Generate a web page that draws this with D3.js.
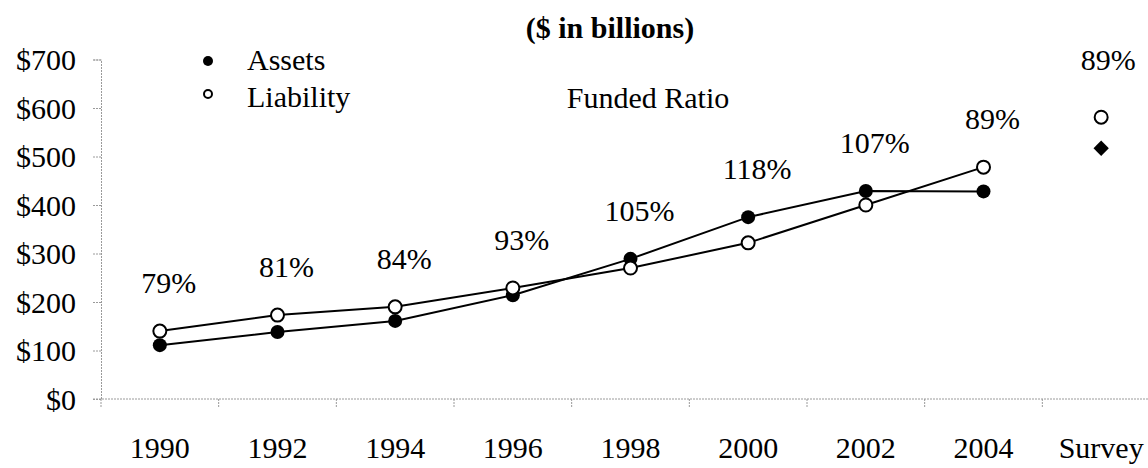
<!DOCTYPE html>
<html>
<head>
<meta charset="utf-8">
<script src="https://cdn.jsdelivr.net/npm/d3@7"></script>
<style>
  body { margin: 0; background: #fff; }
  svg text { font-family: "Liberation Serif", "Times New Roman", serif; fill: #000; }
  .axis path, .axis line, .tick-mark { stroke: #9a9a9a; stroke-width: 1; stroke-dasharray: 2,1; }
</style>
</head>
<body>
<svg class="chart" width="1148" height="468"></svg>
<script>
// values ($ billions)
var categories = ['1990','1992','1994','1996','1998','2000','2002','2004','Survey'];
var years      = ['1990','1992','1994','1996','1998','2000','2002','2004'];
var assets     = [111, 138, 161, 214, 289, 375, 429, 428];
var liability  = [140, 173, 190, 229, 270, 322, 400, 478];
var ratios     = ['79%','81%','84%','93%','105%','118%','107%','89%'];
var surveyAssets = 517,
    surveyLiability = 581,
    surveyRatio = '89%';
var yTicks = [0,100,200,300,400,500,600,700];

var svg = d3.select('svg.chart');

var x = d3.scaleBand().domain(categories).range([101, 1160]).padding(0);
var y = d3.scaleLinear().domain([0, 700]).range([399, 59.5]);
var cx = function(c){ return x(c) + x.bandwidth()/2; };

// title (second line, first one falls off the top)
svg.append('text')
   .attr('x', 610).attr('y', 38)
   .attr('text-anchor','middle')
   .style('font-size','30px').style('font-weight','bold')
   .text('($ in billions)');

// y axis
var yAxis = svg.append('g').attr('class','axis')
   .attr('transform','translate(101,0)')
   .call(d3.axisLeft(y).tickValues(yTicks).tickSize(8).tickPadding(17)
           .tickFormat(function(d){ return '$' + d; }));
yAxis.selectAll('text').style('font-size','30px').attr('dy','0.34em');

// x axis - labels centred, tick marks on the band edges
var xAxis = svg.append('g').attr('class','axis')
   .attr('transform','translate(0,399)')
   .call(d3.axisBottom(x).tickSizeInner(0).tickSizeOuter(0).tickPadding(38));
xAxis.selectAll('text').style('font-size','30px');
xAxis.select('.domain').attr('d','M93,0H1148');

svg.append('g').selectAll('line')
   .data(categories)
   .enter().append('line')
   .attr('class','tick-mark')
   .attr('x1', function(d){ return x(d); })
   .attr('x2', function(d){ return x(d); })
   .attr('y1', 399).attr('y2', 408);

// lines
var line = d3.line()
   .x(function(d,i){ return cx(years[i]); })
   .y(function(d){ return y(d); });

svg.append('path').datum(assets)
   .attr('d', line).attr('fill','none').attr('stroke','#000').attr('stroke-width',2);
svg.append('path').datum(liability)
   .attr('d', line).attr('fill','none').attr('stroke','#000').attr('stroke-width',2);

// markers
svg.append('g').selectAll('circle')
   .data(assets).enter().append('circle')
   .attr('cx', function(d,i){ return cx(years[i]); })
   .attr('cy', function(d){ return y(d); })
   .attr('r', 7).attr('fill','#000');

svg.append('g').selectAll('circle')
   .data(liability).enter().append('circle')
   .attr('cx', function(d,i){ return cx(years[i]); })
   .attr('cy', function(d){ return y(d); })
   .attr('r', 6.5).attr('fill','#fff').attr('stroke','#000').attr('stroke-width',2);

// survey point
svg.append('circle')
   .attr('cx', cx('Survey')).attr('cy', y(surveyLiability))
   .attr('r', 6.5).attr('fill','#fff').attr('stroke','#000').attr('stroke-width',2);
svg.append('path')
   .attr('transform','translate(' + cx('Survey') + ',' + y(surveyAssets) + ')')
   .attr('d', d3.symbol().type(d3.symbolDiamond2).size(150))
   .attr('fill','#000');

// funded ratio labels
svg.append('g').selectAll('text')
   .data(ratios).enter().append('text')
   .attr('x', function(d,i){ return cx(years[i]) + 9; })
   .attr('y', function(d,i){ return y(Math.max(assets[i], liability[i])) - 38; })
   .attr('text-anchor','middle')
   .style('font-size','30px')
   .text(function(d){ return d; });
svg.append('text')
   .attr('x', cx('Survey') + 7)
   .attr('y', y(Math.max(surveyAssets, surveyLiability)) - 47)
   .attr('text-anchor','middle')
   .style('font-size','30px')
   .text(surveyRatio);

svg.append('text')
   .attr('x', 648).attr('y', 108)
   .attr('text-anchor','middle')
   .style('font-size','30px')
   .text('Funded Ratio');

// legend
var legend = svg.append('g');
legend.append('circle').attr('cx',208).attr('cy',61).attr('r',5).attr('fill','#000');
legend.append('text').attr('x',247).attr('y',70).style('font-size','30px').text('Assets');
legend.append('circle').attr('cx',208).attr('cy',94).attr('r',4)
      .attr('fill','#fff').attr('stroke','#000').attr('stroke-width',2);
legend.append('text').attr('x',247).attr('y',107).style('font-size','30px').text('Liability');
</script>
</body>
</html>
